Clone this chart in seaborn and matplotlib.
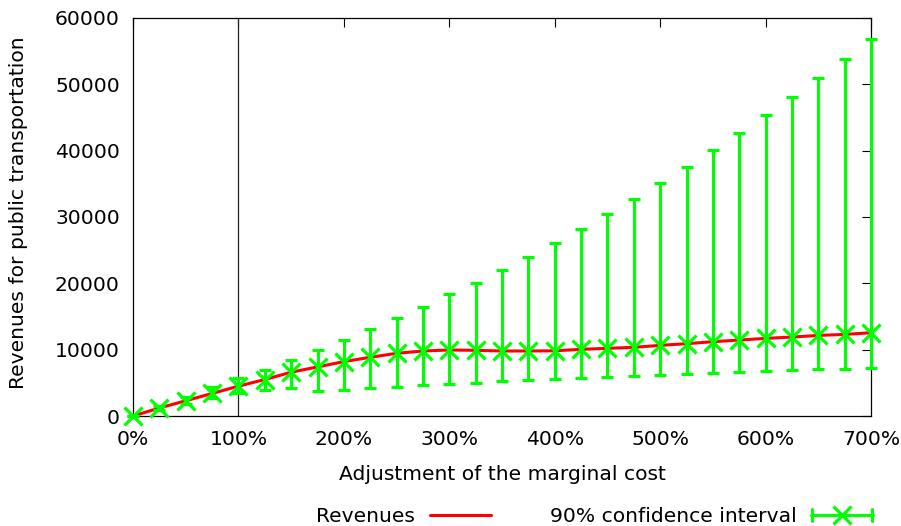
import matplotlib
matplotlib.use("Agg")
import matplotlib.pyplot as plt
import seaborn as sns
import pandas as pd
from matplotlib.lines import Line2D
from matplotlib.legend_handler import HandlerBase
from matplotlib.container import ErrorbarContainer

sns.set_theme(style="white")
plt.rcParams['font.family'] = ['DejaVu Sans']

# Data
adjustment = [0, 25, 50, 75, 100, 125, 150, 175, 200, 225, 250, 275, 300, 325,
              350, 375, 400, 425, 450, 475, 500, 525, 550, 575, 600, 625, 650, 675, 700]
revenues = [0, 1200, 2300, 3400, 4500, 5500, 6600, 7400, 8200, 8850, 9450, 9800,
            9950, 9900, 9800, 9800, 9830, 10050, 10200, 10350, 10650, 10900, 11200,
            11450, 11700, 11900, 12150, 12300, 12550]
ci_upper = [0, 1500, 2900, 4300, 5700, 6900, 8500, 10000, 11500, 13150, 14800, 16500,
            18350, 20100, 22000, 24000, 26050, 28250, 30400, 32700, 35150, 37600,
            40050, 42650, 45400, 48050, 50900, 53800, 56800]
ci_lower = [0, 900, 1800, 2700, 3400, 3950, 4150, 3700, 3900, 4150, 4400, 4650,
            4780, 5030, 5280, 5430, 5580, 5780, 5880, 6030, 6180, 6330, 6490, 6640,
            6840, 6940, 7040, 7140, 7240]
x_ticks = [0, 100, 200, 300, 400, 500, 600, 700]
y_ticks = [0, 10000, 20000, 30000, 40000, 50000, 60000]

df = pd.DataFrame({"adj": adjustment, "rev": revenues,
                   "lo": ci_lower, "hi": ci_upper})

RED = "#ff0000"
GREEN = "#00ff00"
FS = 14.6
LW = 2.2


class HandlerHErr(HandlerBase):
    def create_artists(self, legend, orig_handle, xdescent, ydescent,
                       width, height, fontsize, trans):
        y = height / 2 - ydescent
        x0 = -xdescent
        x1 = x0 + width
        c = 4.3
        arts = [
            Line2D([x0, x1], [y, y], color=GREEN, lw=LW),
            Line2D([x0 + 0.8, x0 + 0.8], [y - c, y + c], color=GREEN, lw=LW),
            Line2D([x1 - 0.8, x1 - 0.8], [y - c, y + c], color=GREEN, lw=LW),
            Line2D([(x0 + x1) / 2], [y], color=GREEN, marker="x", ms=13,
                   mew=2.3, lw=0),
        ]
        for a in arts:
            a.set_transform(trans)
        return arts


fig = plt.figure(figsize=(9.01, 5.26), dpi=100)
ax = fig.add_axes([133/901, 110/526, 738/901, 398/526])

ax.axvline(100, color="#222222", lw=0.9, zorder=1)

sns.lineplot(data=df, x="adj", y="rev", ax=ax, color=RED, lw=LW, zorder=3,
             legend=False)

yerr = [df["rev"] - df["lo"], df["hi"] - df["rev"]]
eb = ax.errorbar(df["adj"], df["rev"], yerr=yerr, fmt="x", color=GREEN,
                 ecolor=GREEN, elinewidth=LW, capsize=4.5, capthick=LW,
                 markersize=13, markeredgewidth=2.3, zorder=4)
eb.lines[0].set_clip_on(False)
for coll in list(eb.lines[1]) + list(eb.lines[2]):
    coll.set_clip_on(False)

ax.set_xlim(0, 700)
ax.set_ylim(0, 60000)
ax.set_xticks(x_ticks)
ax.set_xticklabels([f"{v}%" for v in x_ticks], fontsize=FS)
ax.set_yticks(y_ticks)
ax.set_yticklabels([str(v) for v in y_ticks], fontsize=FS)

ax.tick_params(axis="both", direction="in", length=6.5, width=0.8, color="black",
               top=True, right=True, labelcolor="black")
ax.tick_params(axis="y", pad=9.5)
ax.tick_params(axis="x", pad=10)

for s in ax.spines.values():
    s.set_color("black")
    s.set_linewidth(0.9)
    s.set_visible(True)

ax.set_xlabel("Adjustment of the marginal cost", fontsize=FS,
              color="black", va="center")
ax.xaxis.set_label_coords(0.5, -(474-416)/398)
ax.set_ylabel("Revenues for public transportation", fontsize=FS, color="black",
              va="center")
ax.yaxis.set_label_coords((19-133)/738, 0.51)

h1 = Line2D([], [], color=RED, lw=LW)
leg = ax.legend([h1, eb], ["Revenues", "90% confidence interval"], ncol=2,
                markerfirst=False, frameon=False, fontsize=FS,
                handlelength=3.05, handletextpad=0.7, columnspacing=2.9,
                loc="center right", bbox_to_anchor=(873/901, 9/526),
                bbox_transform=fig.transFigure, borderpad=0, borderaxespad=0,
                handler_map={ErrorbarContainer: HandlerHErr()})
for t in leg.get_texts():
    t.set_color("black")

fig.savefig("out.png", dpi=100)
